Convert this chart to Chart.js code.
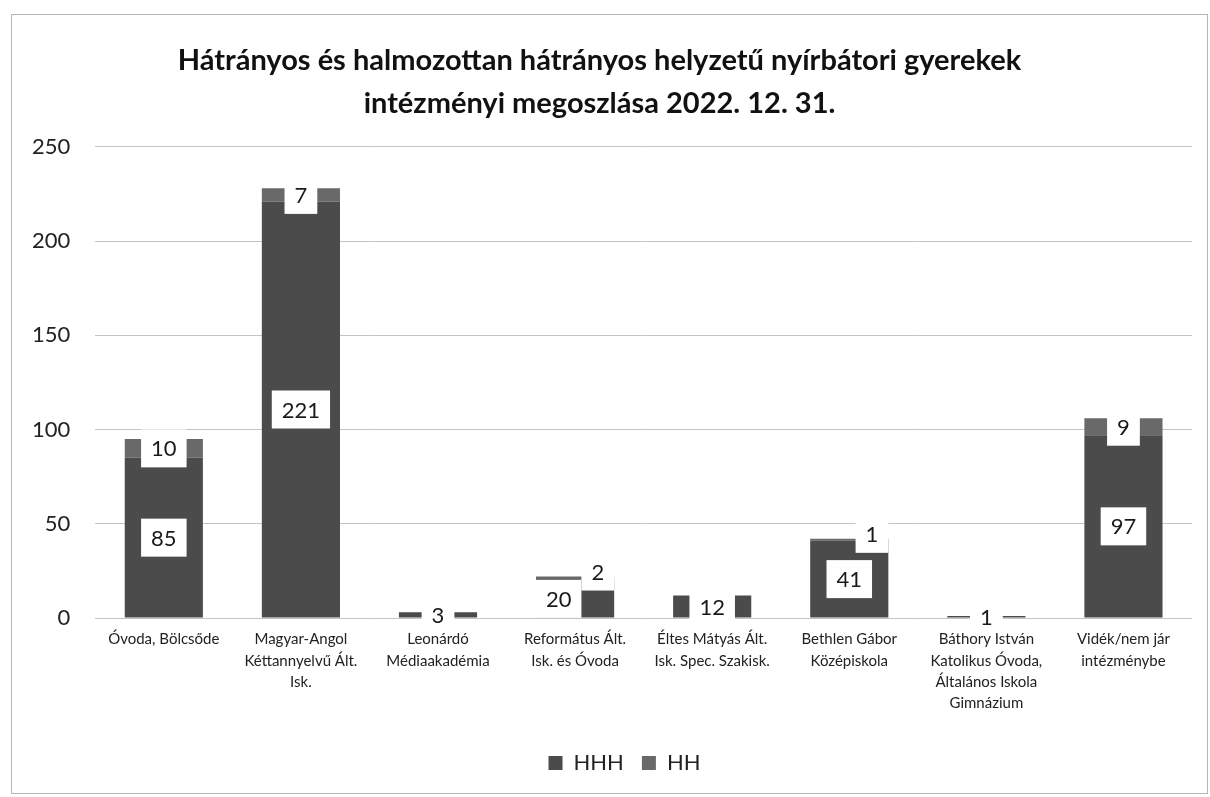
<!DOCTYPE html>
<html>
<head>
<meta charset="utf-8">
<script src="https://cdn.jsdelivr.net/npm/chart.js@4.4.1/dist/chart.umd.min.js"></script>
<style>
  html, body { margin: 0; padding: 0; background: #ffffff; }
  #wrap { position: relative; width: 1210px; height: 797px; }
  canvas { display: block; }
</style>
</head>
<body>
<div id="wrap"><canvas id="c" width="1210" height="797"></canvas></div>
<script>
const titleLines = [
  'Hátrányos és halmozottan hátrányos helyzetű nyírbátori gyerekek',
  'intézményi megoszlása 2022. 12. 31.'
];
const categories = [
  ['Óvoda, Bölcsőde'],
  ['Magyar-Angol', 'Kéttannyelvű Ált.', 'Isk.'],
  ['Leonárdó', 'Médiaakadémia'],
  ['Református Ált.', 'Isk. és Óvoda'],
  ['Éltes Mátyás Ált.', 'Isk. Spec. Szakisk.'],
  ['Bethlen Gábor', 'Középiskola'],
  ['Báthory István', 'Katolikus Óvoda,', 'Általános Iskola', 'Gimnázium'],
  ['Vidék/nem jár', 'intézménybe']
];
const seriesNames = ['HHH', 'HH'];
const hhhValues = [85, 221, 3, 20, 12, 41, 1, 97];
const hhValues = [10, 7, 0, 2, 0, 1, 0, 9];
const yMin = 0, yMax = 250, yStep = 50;

const FONT = 'Lato, "Open Sans", sans-serif';

const framePlugin = {
  id: 'frame',
  beforeDraw(chart) {
    const ctx = chart.ctx;
    ctx.save();
    ctx.fillStyle = '#ffffff';
    ctx.fillRect(0, 0, chart.width, chart.height);
    ctx.strokeStyle = '#b5b5b5';
    ctx.lineWidth = 1;
    ctx.strokeRect(11.5, 14.5, chart.width - 14, chart.height - 18);
    ctx.restore();
  }
};

const legendShiftPlugin = {
  id: 'legendShift',
  afterLayout(chart) {
    if (chart.legend) { chart.legend.left += 25; chart.legend.right += 25; }
  }
};

const boxLabelPlugin = {
  id: 'boxLabels',
  afterDatasetsDraw(chart) {
    const ctx = chart.ctx;
    ctx.save();
    ctx.font = '22px ' + FONT;
    ctx.textAlign = 'center';
    ctx.textBaseline = 'middle';
    const h = 38;
    const n = chart.data.labels.length;
    for (let i = 0; i < n; i++) {
      const boxes = [];
      chart.data.datasets.forEach((ds, di) => {
        const v = ds.data[i];
        if (!v) return;
        const el = chart.getDatasetMeta(di).data[i];
        const text = String(v);
        const w = ctx.measureText(text).width + 20;
        let cx = el.x, cy = (el.y + el.base) / 2;
        const prev = boxes[boxes.length - 1];
        if (prev && Math.abs(cy - prev.cy) < h + 6) {
          cx = el.x + el.width / 2 - w / 2;
          cy = el.y - 5;
          const overlapY = h - Math.abs(cy - prev.cy);
          if (overlapY > 6) {
            const left = cx - w / 2;
            if (prev.cx + prev.w / 2 > left) prev.cx = left - prev.w / 2;
          }
        }
        boxes.push({ cx, cy, w, text });
      });
      boxes.forEach(b => {
        ctx.fillStyle = '#ffffff';
        ctx.fillRect(b.cx - b.w / 2, b.cy - h / 2, b.w, h);
        ctx.fillStyle = '#1a1a1a';
        ctx.fillText(b.text, b.cx, b.cy + 1);
      });
    }
    ctx.restore();
  }
};

new Chart(document.getElementById('c'), {
  type: 'bar',
  data: {
    labels: categories,
    datasets: [
      { label: seriesNames[0], data: hhhValues, backgroundColor: '#4b4b4b', borderWidth: 0 },
      { label: seriesNames[1], data: hhValues, backgroundColor: '#696969', borderWidth: 0 }
    ]
  },
  options: {
    responsive: false,
    animation: false,
    devicePixelRatio: 1,
    layout: { padding: { top: 0, left: 7, right: 18, bottom: 13 } },
    datasets: { bar: { categoryPercentage: 1.0, barPercentage: 0.57 } },
    plugins: {
      title: {
        display: true,
        text: titleLines,
        color: '#111',
        font: { family: FONT, size: 29, weight: 'bold', lineHeight: 1.48 },
        padding: { top: 39, bottom: 22 }
      },
      legend: {
        position: 'bottom',
        labels: {
          color: '#222',
          font: { family: FONT, size: 22 },
          boxWidth: 14, boxHeight: 14,
          padding: 18
        }
      },
      tooltip: { enabled: false }
    },
    scales: {
      x: {
        stacked: true,
        grid: { display: false, drawTicks: false },
        border: { display: false },
        ticks: {
          z: 1,
          color: '#222',
          font: { family: FONT, size: 15, lineHeight: 1.42 },
          padding: 11,
          maxRotation: 0, minRotation: 0, autoSkip: false
        },
        afterFit(scale) {
          scale.height = 116;
          scale.paddingLeft = 0;
          scale.paddingRight = 0;
        }
      },
      y: {
        stacked: true,
        min: yMin, max: yMax,
        grid: { color: '#c4c4c4', lineWidth: 1, drawTicks: false },
        border: { display: false },
        ticks: {
          stepSize: yStep,
          color: '#222',
          font: { family: FONT, size: 22 },
          padding: 25
        }
      }
    }
  },
  plugins: [framePlugin, legendShiftPlugin, boxLabelPlugin]
});
</script>
</body>
</html>
